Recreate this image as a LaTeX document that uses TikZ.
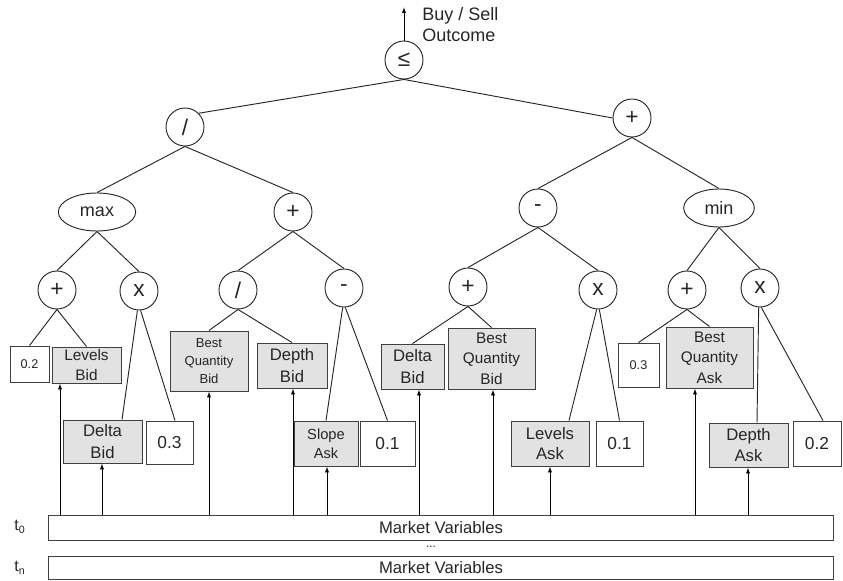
\documentclass[tikz,border=0pt]{standalone}
\usepackage{fontspec}
\setmainfont{Liberation Sans}
\usetikzlibrary{shapes.geometric,arrows.meta}
\newcommand\myfs[2]{\fontsize{#1}{#2}\selectfont}
\definecolor{boxgray}{HTML}{E2E2E2}
\definecolor{edgegray}{HTML}{404040}
\begin{document}
\begin{tikzpicture}[x=0.75pt,y=-0.75pt,
  line width=0.7pt,
  every node/.style={inner sep=0pt, text=black!85},
  op/.style={circle, draw=black!85, minimum size=28.5pt, font=\myfs{17}{17}},
  ell/.style={ellipse, draw=black!85, minimum width=58pt, minimum height=28.5pt, font=\myfs{13.5}{14}},
  leaf/.style={draw=edgegray, fill=boxgray, align=center},
  numbox/.style={draw=edgegray, fill=white, align=center},
  edge/.style={draw=black!85},
  arr/.style={draw=black, -{Latex[length=4.5pt,width=3.2pt]}},
  bar/.style={draw=edgegray, fill=white, minimum width=588.75pt, minimum height=18.75pt, font=\myfs{12.5}{13}}
]
\useasboundingbox (0,0) rectangle (843,581);

% operators
\node[op] (root) at (404,60) {≤};
\node[align=left, anchor=north west, font=\myfs{13.5}{15.75}] (out) at (422,7) {Buy / Sell\\Outcome};
\coordinate (top) at (404,7);

\node[op] (d1) at (185,127) {/};
\node[op] (p1) at (632,118) {+};

\node[ell] (max) at (97,212) {max};
\node[op] (p2) at (293,212) {+};
\node[op] (m2) at (538,208) {-};
\node[ell, minimum width=53pt] (min) at (719,208) {min};

\node[op] (pa) at (57,290) {+};
\node[op] (xa) at (139,291) {x};
\node[op] (da) at (238,290) {/};
\node[op] (ma) at (344,288) {-};
\node[op] (pb) at (468,287) {+};
\node[op] (xb) at (598,290) {x};
\node[op] (pc) at (687,290) {+};
\node[op] (xc) at (760,288) {x};

% leaves, upper row
\node[numbox, minimum width=29.25pt, minimum height=27pt, font=\myfs{9.5}{10}] (z2a) at (29.5,364) {0.2};
\node[leaf, minimum width=51.75pt, minimum height=27pt, font=\myfs{11.5}{14.5}] (lvb) at (86.5,365) {Levels\\Bid};
\node[leaf, minimum width=58.5pt, minimum height=45pt, font=\myfs{9.8}{13.2}] (bqb) at (209,361) {Best\\Quantity\\Bid};
\node[leaf, minimum width=52.5pt, minimum height=33.75pt, font=\myfs{12.5}{16}] (dpb) at (292,365.5) {Depth\\Bid};
\node[leaf, minimum width=47.25pt, minimum height=33.75pt, font=\myfs{12.5}{16}] (dlb2) at (412.5,366.5) {Delta\\Bid};
\node[leaf, minimum width=65.25pt, minimum height=45.75pt, font=\myfs{11.5}{15.25}] (bqb2) at (491.5,358.5) {Best\\Quantity\\Bid};
\node[numbox, minimum width=30.75pt, minimum height=33pt, font=\myfs{9.5}{10}] (z3b) at (638.5,365) {0.3};
\node[leaf, minimum width=65.25pt, minimum height=45.75pt, font=\myfs{11.5}{15.25}] (bqa) at (709.5,357.5) {Best\\Quantity\\Ask};

% leaves, lower row
\node[leaf, minimum width=59.25pt, minimum height=32.25pt, font=\myfs{12.5}{16}] (dlb) at (102.5,441.5) {Delta\\Bid};
\node[numbox, minimum width=35.25pt, minimum height=32.25pt, font=\myfs{13}{13}] (n3a) at (169.5,442.5) {0.3};
\node[leaf, minimum width=48pt, minimum height=33.75pt, font=\myfs{11}{14}] (sla) at (326,443.5) {Slope\\Ask};
\node[numbox, minimum width=41.25pt, minimum height=33.75pt, font=\myfs{13}{13}] (n1a) at (387.5,443.5) {0.1};
\node[leaf, minimum width=58.5pt, minimum height=33.75pt, font=\myfs{12.5}{15.5}] (lva) at (550,443.5) {Levels\\Ask};
\node[numbox, minimum width=35.25pt, minimum height=33.75pt, font=\myfs{13}{13}] (n1b) at (619.5,443.5) {0.1};
\node[leaf, minimum width=59.25pt, minimum height=33pt, font=\myfs{12.5}{15.75}] (dpa) at (748.5,445) {Depth\\Ask};
\node[numbox, minimum width=36pt, minimum height=33.75pt, font=\myfs{13}{13}] (n2b) at (817,443.5) {0.2};

% market variable bars
\node[bar] (mv0) at (441,527.5) {Market Variables};
\node[bar, minimum height=17.25pt] (mvn) at (441,568) {Market Variables};
\node[font=\myfs{9}{9}] (dots) at (431,547) {...};
\node[font=\myfs{12}{12}] (t0) at (20,527) {t\textsubscript{0}};
\node[font=\myfs{12}{12}] (tn) at (20,568) {t\textsubscript{n}};

% output arrow
\draw[arr] (root.north) -- (top);

% tree edges
\draw[edge] (root.south) -- (d1.45);
\draw[edge] (root.south) -- (p1.west);
\draw[edge] (d1.south) -- (max.north);
\draw[edge] (d1.south) -- (p2.north);
\draw[edge] (p1.south) -- (m2.north);
\draw[edge] (p1.south) -- (min.north);
\draw[edge] (max.south) -- (pa.north);
\draw[edge] (max.south) -- (xa.north);
\draw[edge] (p2.south) -- (da.north);
\draw[edge] (p2.south) -- (ma.north);
\draw[edge] (m2.south) -- (pb.north);
\draw[edge] (m2.south) -- (xb.north);
\draw[edge] (min.south) -- (pc.north);
\draw[edge] (min.south) -- (xc.north);

\draw[edge] (pa.south) -- (z2a.north);
\draw[edge] (pa.south) -- (lvb.north);
\draw[edge] ([xshift=-1.2pt]xa.south) -- (dlb.north -| 122,0);
\draw[edge] ([xshift=1.2pt]xa.south) -- (n3a.north -| 175,0);
\draw[edge] (da.south) -- (bqb.north);
\draw[edge] (da.south) -- (dpb.north);
\draw[edge] ([xshift=-1pt]ma.south) -- (sla.north);
\draw[edge] ([xshift=1pt]ma.south) -- (n1a.north);
\draw[edge] (pb.south) -- (dlb2.north);
\draw[edge] (pb.south) -- (bqb2.north);
\draw[edge] ([xshift=-1pt]xb.south) -- (lva.north -| 569,0);
\draw[edge] ([xshift=1pt]xb.south) -- (n1b.north);
\draw[edge] (pc.south) -- (z3b.north);
\draw[edge] (pc.south) -- (bqa.north);
\draw[edge] ([xshift=-1pt]xc.south) -- (dpa.north -| 757,0);
\draw[edge] ([xshift=1pt]xc.south) -- (n2b.north -| 823,0);

% input arrows from market variables
\draw[arr] (mv0.north -| 60,0) -- (lvb.south -| 60,0);
\draw[arr] (mv0.north -| 102,0) -- (dlb.south -| 102,0);
\draw[arr] (mv0.north -| 209,0) -- (bqb.south -| 209,0);
\draw[arr] (mv0.north -| 293,0) -- (dpb.south -| 293,0);
\draw[arr] (mv0.north -| 327,0) -- (sla.south -| 327,0);
\draw[arr] (mv0.north -| 419,0) -- (dlb2.south -| 419,0);
\draw[arr] (mv0.north -| 493,0) -- (bqb2.south -| 493,0);
\draw[arr] (mv0.north -| 550,0) -- (lva.south -| 550,0);
\draw[arr] (mv0.north -| 695,0) -- (bqa.south -| 695,0);
\draw[arr] (mv0.north -| 748,0) -- (dpa.south -| 748,0);
\end{tikzpicture}
\end{document}
